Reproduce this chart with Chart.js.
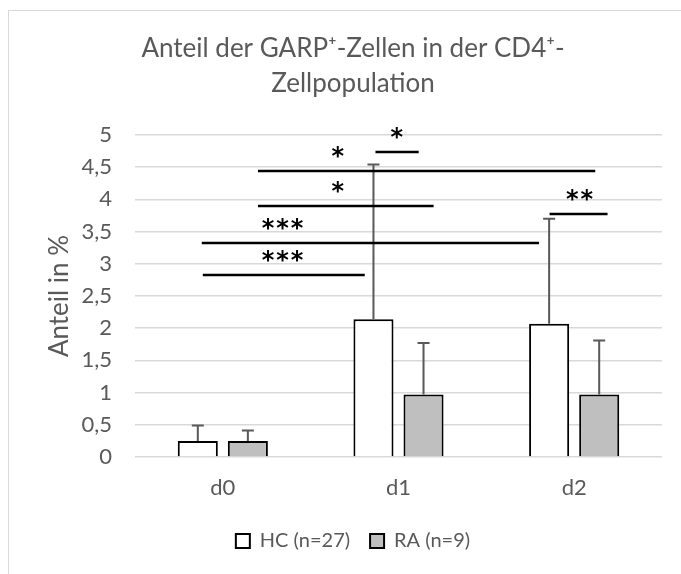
<!DOCTYPE html>
<html>
<head>
<meta charset="utf-8">
<script src="https://cdn.jsdelivr.net/npm/chart.js@4"></script>
<style>
  html, body { margin: 0; padding: 0; background: #fff; overflow: hidden; width: 681px; height: 574px; }
  #frame { position: absolute; left: 8px; top: 10px; width: 720px; height: 640px; border: 1px solid #d9d9d9; box-sizing: border-box; }
  #chart { position: absolute; left: 9px; top: 11px; }
</style>
</head>
<body>
<div id="frame"></div>
<canvas id="chart" width="688" height="560"></canvas>
<script>
// days after stimulation
const days = ["d0", "d1", "d2"];

// mean share of GARP+ cells (%) and standard deviation
const hcMean = [0.25, 2.14, 2.07];
const hcSD   = [0.24, 2.40, 1.63];
const raMean = [0.25, 0.97, 0.97];
const raSD   = [0.16, 0.80, 0.84];

const yTickLabels = ["0", "0,5", "1", "1,5", "2", "2,5", "3", "3,5", "4", "4,5", "5"];

// significance brackets: height (%), start/end and label position in category units
const sigLevel = [2.83, 3.32, 3.90, 4.44, 4.73, 3.77];
const sigFrom  = [-0.114, -0.12, 0.20, 0.20, 0.869, 1.86];
const sigTo    = [0.808, 1.80, 1.20, 2.12, 1.115, 2.19];
const sigMarkX = [0.34, 0.34, 0.655, 0.655, 0.99, 2.03];
const sigText  = ["***", "***", "*", "*", "*", "**"];

const grey = "#595959";

const errorBars = {
  id: "errorBars",
  afterDatasetsDraw(chart) {
    const ctx = chart.ctx;
    const y = chart.scales.y;
    const sds = [hcSD, raSD];
    chart.data.datasets.forEach((ds, i) => {
      chart.getDatasetMeta(i).data.forEach((bar, j) => {
        const top = y.getPixelForValue(ds.data[j] + sds[i][j]);
        ctx.save();
        ctx.strokeStyle = grey;
        ctx.lineWidth = 2;
        ctx.beginPath();
        ctx.moveTo(bar.x, bar.y);
        ctx.lineTo(bar.x, top);
        ctx.moveTo(bar.x - 6, top);
        ctx.lineTo(bar.x + 6, top);
        ctx.stroke();
        ctx.restore();
      });
    });
  }
};

const sigBars = {
  id: "sigBars",
  afterDraw(chart) {
    const ctx = chart.ctx;
    const x = chart.scales.x, y = chart.scales.y;
    const x0 = x.getPixelForValue(0);
    const step = x.getPixelForValue(1) - x0;
    const px = v => x0 + v * step;
    ctx.save();
    ctx.strokeStyle = "#000";
    ctx.fillStyle = "#000";
    ctx.lineWidth = 2.5;
    ctx.font = 'bold 24px "DejaVu Sans"';
    ctx.textAlign = "center";
    ctx.textBaseline = "alphabetic";
    ctx.letterSpacing = "2px";
    sigLevel.forEach((lv, k) => {
      const yy = Math.round(y.getPixelForValue(lv));
      ctx.beginPath();
      ctx.moveTo(px(sigFrom[k]), yy);
      ctx.lineTo(px(sigTo[k]), yy);
      ctx.stroke();
      const m = ctx.measureText(sigText[k]);
      const cy = yy - 19;
      ctx.fillText(sigText[k], px(sigMarkX[k]) + 1, cy + (m.actualBoundingBoxAscent - m.actualBoundingBoxDescent) / 2);
    });
    ctx.restore();
  }
};

new Chart(document.getElementById("chart"), {
  type: "bar",
  data: {
    labels: days,
    datasets: [
      { label: "HC (n=27)", data: hcMean, backgroundColor: "#ffffff", borderColor: "#000000", borderWidth: 2 },
      { label: "RA (n=9)", data: raMean, backgroundColor: "#bfbfbf", borderColor: "#000000", borderWidth: 2 }
    ]
  },
  options: {
    responsive: false,
    animation: false,
    categoryPercentage: 0.57,
    barPercentage: 0.8,
    layout: { padding: { left: 35, right: 35, top: 0, bottom: 10 } },
    plugins: {
      title: {
        display: true,
        text: ["Anteil der GARP\u207A-Zellen in der CD4\u207A-", "Zellpopulation"],
        color: grey,
        font: { family: "Lato", size: 26, weight: "normal", lineHeight: "35px" },
        padding: { top: 20, bottom: 34 }
      },
      legend: {
        position: "bottom",
        labels: {
          color: grey,
          boxWidth: 14,
          boxHeight: 14,
          padding: 20,
          font: { family: "Lato", size: 20 }
        }
      },
      tooltip: { enabled: false }
    },
    scales: {
      x: {
        grid: { display: false },
        border: { display: false },
        ticks: { color: grey, padding: 10, font: { family: "Lato", size: 22 } },
        afterFit(scale) { scale.height = 54; }
      },
      y: {
        min: 0,
        max: 5,
        grid: { color: "#d9d9d9", lineWidth: 1.5, drawTicks: false },
        border: { display: false },
        ticks: {
          stepSize: 0.5,
          color: grey,
          padding: 23,
          font: { family: "Lato", size: 22 },
          callback: (v, i) => yTickLabels[i]
        },
        title: {
          display: true,
          text: "Anteil in %",
          color: grey,
          padding: 0,
          font: { family: "Lato", size: 26 }
        },
        afterFit(scale) { scale.width = 91; }
      }
    }
  },
  plugins: [errorBars, sigBars]
});
</script>
</body>
</html>
